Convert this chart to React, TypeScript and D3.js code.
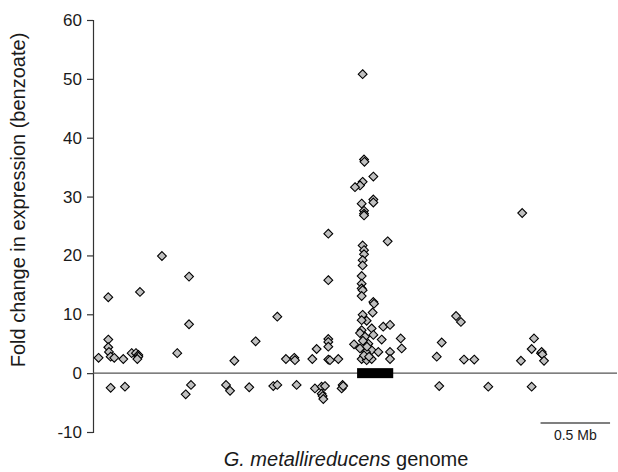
import React, { useEffect, useRef } from 'react';
import * as d3 from 'd3';

// genome position (Mb) and fold change, read per region of the genome
const leftPos = [0.04, 0.11, 0.11, 0.11, 0.115, 0.127, 0.153, 0.218, 0.278, 0.309, 0.326, 0.326, 0.319, 0.338, 0.496, 0.691, 0.691, 0.606, 0.127, 0.23, 0.705, 0.667];
const leftFold = [2.6, 12.9, 5.7, 4.4, 3.6, 2.8, 2.6, 2.4, 3.4, 3.4, 3.1, 2.8, 2.4, 13.8, 19.9, 16.4, 8.3, 3.4, -2.5, -2.3, -2.0, -3.6];

const midPos = [1.017, 1.17, 1.326, 1.388, 1.448, 1.453, 1.578, 1.609, 1.693, 1.693, 1.693, 1.693, 1.693, 1.693, 1.705, 1.765,
  0.957, 0.986, 1.124, 1.297, 1.326, 1.465, 1.597, 1.645, 1.669, 1.645, 1.652, 1.657, 1.796, 1.789, 1.8];
const midFold = [2.1, 5.4, 9.6, 2.4, 2.6, 2.2, 2.4, 4.1, 23.7, 15.8, 5.8, 5.3, 4.5, 2.3, 2.2, 2.4,
  -2.0, -3.0, -2.4, -2.2, -2.0, -2.0, -2.6, -2.3, -2.2, -3.5, -3.9, -4.4, -2.0, -2.6, -2.2];

const clusterPos = [1.94, 1.95, 1.953, 2.017, 1.94, 1.921, 1.885, 2.017, 2.017, 1.933, 1.95, 1.95, 1.95, 2.12, 1.94, 1.95, 1.95, 1.94, 1.94,
  1.933, 1.933, 1.933, 1.94, 1.933, 2.017, 2.022, 2.012, 1.94, 1.969, 1.933, 2.088, 2.137, 2.005, 1.933, 1.921, 1.957, 2.017, 2.077,
  2.214, 2.221, 1.878, 1.921, 1.981, 2.005, 1.964, 2.053, 2.137, 2.137, 1.933, 1.969, 2.005, 1.95, 1.986, 1.971, 1.942];
const clusterFold = [50.8, 36.3, 35.9, 33.4, 32.5, 31.9, 31.6, 29.5, 29.0, 28.8, 27.6, 27.1, 26.8, 22.4, 21.7, 20.9, 20.2, 19.2, 18.3,
  16.5, 15.2, 14.4, 14.1, 13.1, 12.1, 11.8, 10.3, 9.9, 8.9, 9.0, 7.9, 8.2, 7.6, 7.3, 6.8, 6.2, 6.5, 5.7,
  5.9, 4.2, 4.9, 4.2, 5.0, 3.9, 3.6, 3.6, 3.6, 2.4, 2.4, 2.2, 2.4, 3.0, 2.8, 4.5, 5.5];

const rightPos = [2.473, 2.509, 2.612, 2.647, 2.669, 2.743, 3.079, 3.088, 3.156, 3.173, 3.223, 3.228, 3.233, 3.245, 2.491, 2.844, 3.156];
const rightFold = [2.8, 5.2, 9.7, 8.7, 2.3, 2.3, 2.1, 27.2, 4.1, 5.9, 3.4, 3.6, 3.2, 2.1, -2.2, -2.3, -2.3];

const yTicks = [-10, 0, 10, 20, 30, 40, 50, 60];
const operonMb = [1.9, 2.16]; // black box on the axis
const scaleBarMb = [3.22, 3.72];
const genomeMaxMb = 3.77;

const FONT = '"Liberation Sans", Arial, sans-serif';

const App = () => {
  const svgRef = useRef<SVGSVGElement | null>(null);
  const width = 618;
  const height = 472;

  useEffect(() => {
    const svg = d3.select(svgRef.current);
    svg.selectAll('*').remove();

    const x = d3.scaleLinear().domain([0, genomeMaxMb]).range([93, 617]);
    const y = d3.scaleLinear().domain([-10, 60]).range([432, 20]);

    const points = [
      ...leftPos.map((p, i) => ({ p, v: leftFold[i] })),
      ...midPos.map((p, i) => ({ p, v: midFold[i] })),
      ...clusterPos.map((p, i) => ({ p, v: clusterFold[i] })),
      ...rightPos.map((p, i) => ({ p, v: rightFold[i] })),
    ];

    // y axis (plain hyphen for negatives, like the original)
    const yAxis = d3.axisLeft(y)
      .tickValues(yTicks)
      .tickSize(6)
      .tickPadding(5)
      .tickFormat(d => String(d));
    const gy = svg.append('g').attr('transform', `translate(${x(0)},0)`).call(yAxis);
    gy.select('.domain').attr('stroke', '#333').attr('stroke-width', 1.2);
    gy.selectAll('line').attr('stroke', '#333').attr('stroke-width', 1.2);
    gy.selectAll('text')
      .attr('fill', '#1a1a1a')
      .style('font-family', FONT)
      .style('font-size', '17px');

    // zero line across the genome
    svg.append('line')
      .attr('x1', x(0)).attr('x2', x(genomeMaxMb))
      .attr('y1', y(0)).attr('y2', y(0))
      .attr('stroke', '#555').attr('stroke-width', 1.2);

    // gene cluster box
    svg.append('rect')
      .attr('x', x(operonMb[0]))
      .attr('y', y(0) - 5)
      .attr('width', x(operonMb[1]) - x(operonMb[0]))
      .attr('height', 10)
      .attr('fill', '#000');

    // points
    const diamond = 'M0,-4.4L4.4,0L0,4.4L-4.4,0Z';
    svg.append('g')
      .selectAll('path')
      .data(points)
      .enter()
      .append('path')
      .attr('d', diamond)
      .attr('transform', d => `translate(${x(d.p)},${y(d.v)})`)
      .attr('fill', '#c0c0c0')
      .attr('stroke', '#000')
      .attr('stroke-width', 1.1);

    // scale bar
    svg.append('line')
      .attr('x1', x(scaleBarMb[0])).attr('x2', x(scaleBarMb[1]))
      .attr('y1', 423).attr('y2', 423)
      .attr('stroke', '#555').attr('stroke-width', 1.5);
    svg.append('text')
      .attr('x', (x(scaleBarMb[0]) + x(scaleBarMb[1])) / 2)
      .attr('y', 440)
      .attr('text-anchor', 'middle')
      .attr('fill', '#1a1a1a')
      .style('font-family', FONT)
      .style('font-size', '14px')
      .text('0.5 Mb');

    // axis titles
    svg.append('text')
      .attr('transform', 'translate(25,200) rotate(-90)')
      .attr('text-anchor', 'middle')
      .attr('fill', '#1a1a1a')
      .style('font-family', FONT)
      .style('font-size', '20px')
      .text('Fold change in expression (benzoate)');

    const xt = svg.append('text')
      .attr('x', 346)
      .attr('y', 466)
      .attr('text-anchor', 'middle')
      .attr('fill', '#1a1a1a')
      .style('font-family', FONT)
      .style('font-size', '20px');
    xt.append('tspan').style('font-style', 'italic').text('G. metallireducens');
    xt.append('tspan').text(' genome');
  }, []);

  return (
    <svg
      ref={svgRef}
      width={width}
      height={height}
      style={{ position: 'absolute', left: 0, top: 0, background: '#fff' }}
    />
  );
};

export default App;
